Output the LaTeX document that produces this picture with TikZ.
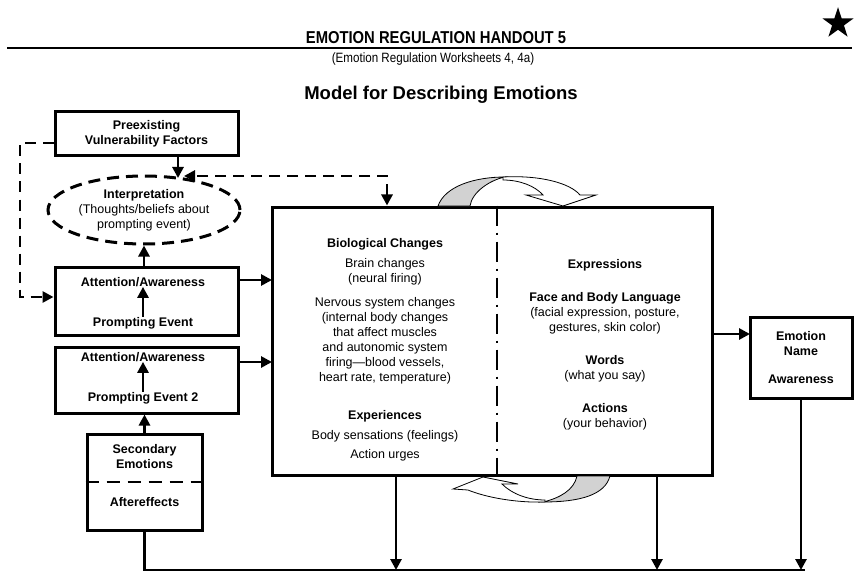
\documentclass[tikz,border=0pt]{standalone}
\usepackage{fontspec}
\setmainfont{Liberation Sans}
\newfontfamily\condfont[FakeStretch=0.86]{Liberation Sans}
\usepackage{tikz}
\usetikzlibrary{arrows.meta,positioning,calc,shapes.geometric}
\tikzset{main base/.style={draw,line width=3pt,text centered, }, }
\tikzset{main node/.style={rectangle, draw,main base,inner sep=0pt}, }
\tikzset{main text/.style={inner sep=0pt,align=center}, }
\tikzset{main bold/.style={main text,font=\fontsize{12.5}{15}\selectfont\bfseries}, }
\tikzset{linea/.style={-{Triangle[length=11pt,width=11pt]},line width=2.8pt,draw}}
\tikzset{linea2/.style={line width=2.8pt,draw}}
\tikzset{dlinea/.style={linea,dash pattern=on 11pt off 7pt}}
\tikzset{twist/.style={draw,line width=0.8pt}}

\begin{document}
\begin{tikzpicture}[x=1pt,y=-1pt,font=\fontsize{12.5}{15}\selectfont]
  \useasboundingbox (0,0) rectangle (856,572);
  % heading
  \node[anchor=base,font=\condfont\fontsize{17.2}{20}\selectfont\bfseries] (t1) at (436,44) {EMOTION REGULATION HANDOUT 5};
  \draw[line width=1.8pt] (7,48) -- (852,48);
  \node[anchor=base,font=\condfont\fontsize{13.5}{15}\selectfont] (t2) at (433,63) {(Emotion Regulation Worksheets 4, 4a)};
  \node[anchor=base,font=\fontsize{18.5}{20}\selectfont\bfseries] (t3) at (441,100) {Model for Describing Emotions};
  \node[star,star points=5,star point ratio=2.618,fill,minimum size=32.6pt,inner sep=0pt] (s) at (838,23.5) {};
  %
  \node[main node,minimum width=183pt,minimum height=44pt,align=center,font=\fontsize{12.5}{15}\selectfont\bfseries] (1) at (146.5,134) {Preexisting\\Vulnerability Factors};
  \node[ellipse,main base,dash pattern=on 12pt off 7pt,minimum width=192pt,minimum height=68pt,inner sep=0pt,align=center] (2) at (144,210) {\textbf{Interpretation}\\(Thoughts/beliefs about\\prompting event)};

  \node[main node,minimum width=183pt,minimum height=68pt] (3) at (146.5,301) {};
  \node[main bold] (3a) at (143,282) {Attention/Awareness};
  \node[main bold] (3b) at (143,323) {Prompting Event};

  \node[main node,minimum width=183pt,minimum height=66pt] (4) at (146.5,380) {};
  \node[main bold] (4a) at (143,357) {Attention/Awareness};
  \node[main bold] (4b) at (143,398) {Prompting Event 2};

  \node[main node,minimum width=115pt,minimum height=96pt] (5) at (144.5,482) {};
  \node[main bold] (5a) at (144.5,457) {Secondary\\Emotions};
  \node[main bold] (5b) at (144.5,502) {Aftereffects};
  \draw[line width=2.8pt,dash pattern=on 13pt off 8pt] (5.west) -- (5.east);

  \node[main node,minimum width=440pt,minimum height=268pt] (6) at (492,341) {};
  \coordinate (m) at (497,341);
  \draw[line width=1.8pt,dash pattern=on 20pt off 7pt on 2pt off 7pt] (6.north -| m) -- (6.south -| m);
  \node[main text,anchor=north] (6a) at (385,238.5) {\textbf{Biological Changes}\\[5pt]
    Brain changes\\(neural firing)\\[9pt]
    Nervous system changes\\(internal body changes\\that affect muscles\\and autonomic system\\firing---blood vessels,\\heart rate, temperature)\\[23pt]
    \textbf{Experiences}\\[5pt]
    Body sensations (feelings)\\[4pt]
    Action urges};
  \node[main text,anchor=north] (6b) at (605,259.5) {\textbf{Expressions}\\[18pt]
    \textbf{Face and Body Language}\\(facial expression, posture,\\gestures, skin color)\\[18pt]
    \textbf{Words}\\(what you say)\\[18pt]
    \textbf{Actions}\\(your behavior)};

  \node[main node,minimum width=102pt,minimum height=81pt,align=center,font=\fontsize{12.5}{15}\selectfont\bfseries] (7) at (801,357.5) {Emotion\\Name\\[13pt]Awareness};

  % turning arrows
  \filldraw[twist,fill=gray!35] (438,206) .. controls (445,186) and (475,177) .. (505,177) .. controls (490,180) and (472,192) .. (470,206) -- cycle;
  \filldraw[twist,fill=white] (503,177) .. controls (540,175) and (570,183) .. (580,195) -- (596,195) -- (563,206) -- (526,195) -- (543,195) .. controls (535,186) and (520,180) .. (503,180) -- cycle;
  \filldraw[twist,fill=gray!35] (610,476) .. controls (605,495) and (580,502) .. (543,502) .. controls (560,498) and (574,490) .. (577,476) -- cycle;
  \filldraw[twist,fill=white] (545,502) .. controls (515,503) and (485,497) .. (468,490) -- (453,489) -- (483,477) -- (518,484) -- (502,484) .. controls (512,494) and (528,500) .. (545,500) -- cycle;

  % connectors
  \coordinate (l1) at (20,143);
  \coordinate (l2) at (20,297);
  \coordinate (u1) at (387,176);
  \coordinate (u2) at (184,176);
  \coordinate (p) at (178,178);
  \coordinate (a1) at (272,280);
  \coordinate (a2) at (272,362);
  \coordinate (e) at (750,334);
  \coordinate (b2) at (805,570);
  \coordinate (d1) at (396,570);
  \coordinate (d2) at (657,570);
  \coordinate (d3) at (801,570);
\foreach \x /\y in{3b/3a,4b/4a}
  \path[linea] (\x) edge node {} (\y);
  \draw[linea] (1.south -| p) -- (p);
  \draw[dlinea] (3.north -| 2.south) -- (2.south);
  \draw[dlinea] (1.west |- l1) -- (l1) -- (l2) -- (3.west |- l2);
  \draw[dlinea,{Triangle[length=11pt,width=11pt]}-{Triangle[length=11pt,width=11pt]}] (6.north -| u1) -- (u1) -- (u2);
  \draw[linea] (5.north) -- (4.south -| 5.north);
  \draw[linea] (3.east |- a1) -- (a1);
  \draw[linea] (4.east |- a2) -- (a2);
  \draw[linea] (6.east |- e) -- (e);
  \draw[linea2] (5.south) |- (b2);
\foreach \x in {d1,d2}
  \draw[linea] (6.south -| \x) -- (\x);
  \draw[linea] (7.south) -- (d3);
\end{tikzpicture}
\end{document}
